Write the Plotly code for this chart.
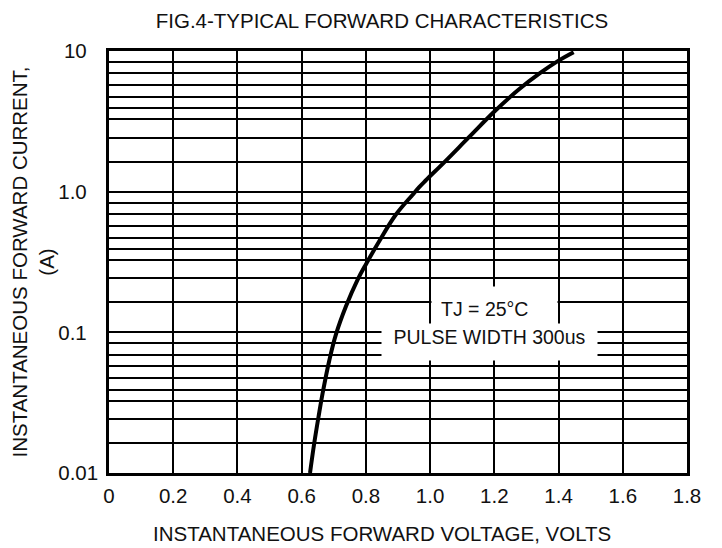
import plotly.graph_objects as go

# Curve
voltage = [0.626, 0.639, 0.653, 0.665, 0.686, 0.707, 0.738, 0.774, 0.802, 0.841,
           0.893, 0.945, 0.966, 0.986, 1.043, 1.121, 1.201, 1.276, 1.343, 1.400, 1.447]
current = [0.010, 0.0162, 0.0255, 0.0366, 0.063, 0.097, 0.153, 0.236, 0.31, 0.442,
           0.685, 0.948, 1.077, 1.20, 1.61, 2.44, 3.73, 5.32, 6.98, 8.54, 9.8]

x_tickvals = [0, 0.2, 0.4, 0.6, 0.8, 1.0, 1.2, 1.4, 1.6, 1.8]
x_ticktext = ["0", "0.2", "0.4", "0.6", "0.8", "1.0", "1.2", "1.4", "1.6", "1.8"]
y_tickvals = [0.01, 0.1, 1, 10]
y_ticktext = ["0.01", "0.1\u00a0\u00a0", "1.0\u00a0\u00a0", "10\u00a0\u00a0"]
decades = [0.01, 0.1, 1]
minor_multipliers = [1.63, 2.42, 3.27, 3.91, 4.72, 5.74, 6.92, 8.36]
minor_vals = [d * m for d in decades for m in minor_multipliers]

FONT = "Liberation Sans, Arial, sans-serif"
TXT = "#111"
FS = 20.5

# The page body adds an 8px margin, so the figure is drawn 8px in from the window edge.
PAGE_PAD = 8
W, H = 722 - PAGE_PAD, 548 - PAGE_PAD
PLOT_L, PLOT_R, PLOT_T, PLOT_B = 109, 687, 51, 473   # target plot box in window pixels

fig = go.Figure()
fig.add_trace(go.Scatter(
    x=voltage, y=current, mode="lines",
    line=dict(color="black", width=4, shape="spline", smoothing=1.1),
    showlegend=False, hoverinfo="skip",
))

fig.update_layout(
    width=W, height=H,
    margin=dict(l=PLOT_L - PAGE_PAD, r=722 - PLOT_R, t=PLOT_T - PAGE_PAD, b=548 - PLOT_B),
    paper_bgcolor="white", plot_bgcolor="white",
    font=dict(family=FONT, size=FS, color=TXT),
    title=dict(text="FIG.4-TYPICAL FORWARD CHARACTERISTICS",
               x=(382 - PAGE_PAD) / W, xanchor="center",
               y=1 - (21 - PAGE_PAD) / H, yanchor="middle",
               font=dict(family=FONT, size=FS, color=TXT)),
    xaxis=dict(
        range=[0, 1.8], tickmode="array", tickvals=x_tickvals, ticktext=x_ticktext,
        showgrid=True, gridcolor="black", gridwidth=2,
        showline=True, linecolor="black", linewidth=2.5, mirror=True,
        zeroline=False, ticks="", ticklabelstandoff=3, automargin=False,
        tickfont=dict(size=FS),
    ),
    yaxis=dict(
        type="log", range=[-2, 1], tickmode="array", tickvals=y_tickvals, ticktext=y_ticktext,
        showgrid=True, gridcolor="black", gridwidth=2,
        minor=dict(tickmode="array", tickvals=minor_vals, showgrid=True,
                   gridcolor="black", gridwidth=2, ticks=""),
        showline=True, linecolor="black", linewidth=2.5, mirror=True,
        zeroline=False, ticks="", ticklabelstandoff=4, automargin=False,
        tickfont=dict(size=FS),
        title=dict(text="INSTANTANEOUS FORWARD CURRENT,<br>(A)",
                   font=dict(size=FS), standoff=0),
    ),
)

# x-axis title (placed slightly left of plot centre as in the original)
fig.add_annotation(
    x=(382 - PLOT_L) / (PLOT_R - PLOT_L), y=-(533 - PLOT_B) / (PLOT_B - PLOT_T),
    xref="paper", yref="paper", xanchor="center", yanchor="middle",
    text="INSTANTANEOUS FORWARD VOLTAGE, VOLTS", showarrow=False,
    font=dict(family=FONT, size=FS, color=TXT),
)

fig.add_annotation(
    x=1.200, y=-0.832, xref="x", yref="y",
    text="TJ = 25°C", showarrow=False, align="left",
    width=107, height=26, borderpad=9, bgcolor="white",
    font=dict(family=FONT, size=19.5, color=TXT),
)
fig.add_annotation(
    x=1.1845, y=-1.066, xref="x", yref="y",
    text="PULSE WIDTH 300us", showarrow=False, align="center", valign="top",
    width=211, height=32, borderpad=2, bgcolor="white",
    font=dict(family=FONT, size=19.5, color=TXT),
)

fig.write_html("out.html")
